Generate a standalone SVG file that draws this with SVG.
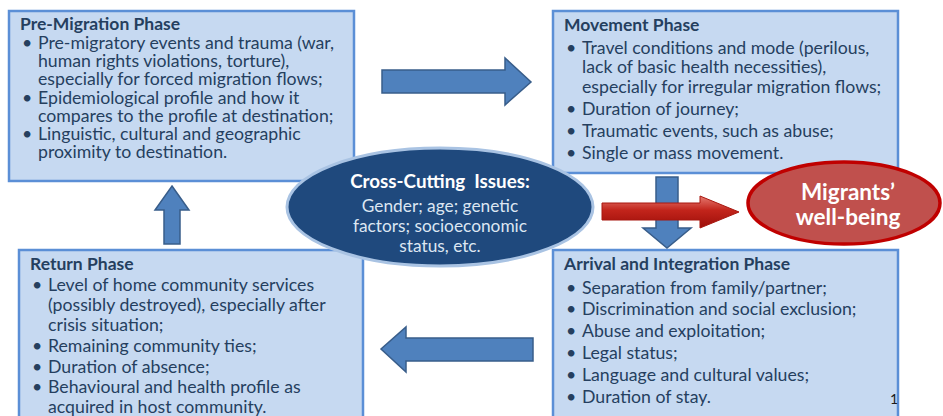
<svg xmlns="http://www.w3.org/2000/svg" width="943" height="416" viewBox="0 0 943 416">
<defs>
<style>
.box{fill:#C6D9F1;stroke:#5B8FD6;stroke-width:2.5}
.t{font-family:Lato,"Open Sans","Liberation Sans",sans-serif;font-size:17.7px;fill:#253F5F}
.h{font-family:Lato,"Open Sans","Liberation Sans",sans-serif;font-size:17.5px;font-weight:bold;fill:#253F5F}
.barrow{fill:#4F81BD;stroke:#385D8A;stroke-width:1.5}
.ct{font-family:Lato,"Open Sans","Liberation Sans",sans-serif;font-size:17.3px;fill:#DCE6F2;text-anchor:middle}
.cth{font-family:Lato,"Open Sans","Liberation Sans",sans-serif;font-size:18.8px;font-weight:bold;fill:#FFFFFF;text-anchor:middle}
.wb{font-family:Lato,"Open Sans","Liberation Sans",sans-serif;font-size:22.5px;font-weight:bold;fill:#FFFFFF;text-anchor:middle}
</style>
<linearGradient id="redg" x1="0" y1="0" x2="0" y2="1">
<stop offset="0" stop-color="#E57A70"/>
<stop offset="0.45" stop-color="#C2241B"/>
<stop offset="1" stop-color="#9C0E09"/>
</linearGradient>
</defs>
<rect width="943" height="416" fill="#FFFFFF"/>

<g id="premigration">
<rect class="box" x="9" y="11" width="345" height="170"/>
<text class="h" x="20" y="30">Pre-Migration Phase</text>
<text class="t" x="22" y="49">•</text><text class="t" x="38" y="49">Pre-migratory events and trauma (war,</text>
<text class="t" x="38" y="67">human rights violations, torture),</text>
<text class="t" x="38" y="85">especially for forced migration flows;</text>
<text class="t" x="22" y="104">•</text><text class="t" x="38" y="104">Epidemiological profile and how it</text>
<text class="t" x="38" y="122">compares to the profile at destination;</text>
<text class="t" x="22" y="140">•</text><text class="t" x="38" y="140">Linguistic, cultural and geographic</text>
<text class="t" x="38" y="158">proximity to destination.</text>
</g>

<g id="movement">
<rect class="box" x="553" y="11" width="345" height="162"/>
<text class="h" x="564" y="31">Movement Phase</text>
<text class="t" x="566" y="54">•</text><text class="t" x="582" y="54">Travel conditions and mode (perilous,</text>
<text class="t" x="582" y="73">lack of basic health necessities),</text>
<text class="t" x="582" y="93">especially for irregular migration flows;</text>
<text class="t" x="566" y="115">•</text><text class="t" x="582" y="115">Duration of journey;</text>
<text class="t" x="566" y="137">•</text><text class="t" x="582" y="137">Traumatic events, such as abuse;</text>
<text class="t" x="566" y="159">•</text><text class="t" x="582" y="159">Single or mass movement.</text>
</g>

<g id="return">
<rect class="box" x="19" y="250" width="344" height="180"/>
<text class="h" x="30" y="270">Return Phase</text>
<text class="t" x="32" y="291">•</text><text class="t" x="48" y="291">Level of home community services</text>
<text class="t" x="48" y="311">(possibly destroyed), especially after</text>
<text class="t" x="48" y="331">crisis situation;</text>
<text class="t" x="32" y="352">•</text><text class="t" x="48" y="352">Remaining community ties;</text>
<text class="t" x="32" y="373">•</text><text class="t" x="48" y="373">Duration of absence;</text>
<text class="t" x="32" y="393">•</text><text class="t" x="48" y="393">Behavioural and health profile as</text>
<text class="t" x="48" y="413">acquired in host community.</text>
</g>

<g id="arrival">
<rect class="box" x="553" y="250" width="345" height="180"/>
<text class="h" x="564" y="270">Arrival and Integration Phase</text>
<text class="t" x="566" y="294">•</text><text class="t" x="582" y="294">Separation from family/partner;</text>
<text class="t" x="566" y="315">•</text><text class="t" x="582" y="315">Discrimination and social exclusion;</text>
<text class="t" x="566" y="337">•</text><text class="t" x="582" y="337">Abuse and exploitation;</text>
<text class="t" x="566" y="359">•</text><text class="t" x="582" y="359">Legal status;</text>
<text class="t" x="566" y="381">•</text><text class="t" x="582" y="381">Language and cultural values;</text>
<text class="t" x="566" y="403">•</text><text class="t" x="582" y="403">Duration of stay.</text>
</g>

<g id="connectors">
<polygon class="barrow" points="382,70 505,70 505,58 531,82 505,105 505,93 382,93"/>
<polygon class="barrow" points="656,177 678,177 678,228 691,228 667,248 643,228 656,228"/>
<polygon class="barrow" points="533,338 406,338 406,327 381,349 406,372 406,361 533,361"/>
<polygon class="barrow" points="172,186 189,210 180,210 180,244 164,244 164,210 155,210"/>
<polygon fill="url(#redg)" stroke="#A8170F" stroke-width="1" points="602,203 700,203 700,196 739,212 700,228 700,220 602,220"/>
</g>

<g id="crosscutting">
<ellipse cx="440" cy="207" rx="153" ry="59" fill="#1F497D" stroke="#A9C3E3" stroke-width="3"/>
<text class="cth" x="440" y="188" xml:space="preserve">Cross-Cutting  Issues:</text>
<text class="ct" x="440" y="212">Gender; age; genetic</text>
<text class="ct" x="440" y="232">factors; socioeconomic</text>
<text class="ct" x="440" y="252">status, etc.</text>
</g>

<g id="wellbeing">
<ellipse cx="844" cy="203" rx="96" ry="41" fill="#C0504D" stroke="#C00000" stroke-width="3.5"/>
<text class="wb" x="848" y="200">Migrants’</text>
<text class="wb" x="848" y="225">well-being</text>
</g>

<text x="890" y="404" font-family="Lato,'Liberation Sans',sans-serif" font-size="14" fill="#1A1A1A">1</text>
</svg>
